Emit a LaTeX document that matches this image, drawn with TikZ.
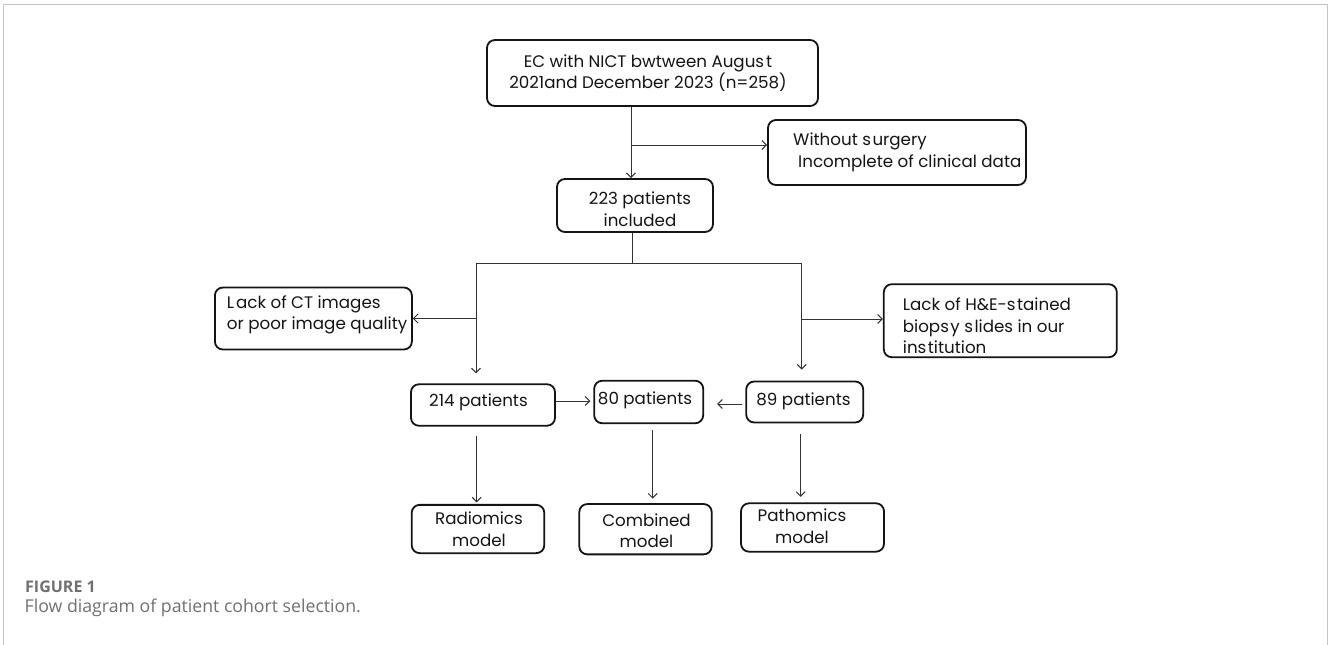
\documentclass[tikz,border=0pt]{standalone}
\usepackage{fontspec}
\setmainfont{Poppins}
\newfontfamily\capfont{Open Sans}
\usetikzlibrary{arrows.meta}
\definecolor{framegray}{HTML}{C4C4C4}
\definecolor{capgray}{HTML}{707070}
\begin{document}
\begin{tikzpicture}[x=1pt,y=-1pt,
  box/.style={draw=black!92, line width=1.8pt, rounded corners=8pt, inner sep=0pt},
  txt/.style={font=\fontsize{16.7}{21.5}\selectfont, inner sep=0pt, text=black!92},
  conn/.style={draw=black!80, line width=1pt},
  arr/.style={conn, -{Straight Barb[length=4.5pt,width=9pt,line width=1pt]}}
]
\useasboundingbox (0,0) rectangle (1328,645);
% frame
\draw[framegray, line width=1pt] (3,645) -- (3,4) -- (1327,4) -- (1327,645);

% boxes
\node[box, minimum width=331pt, minimum height=66pt] (top) at (652.5,73) {};
\node[box, minimum width=258pt, minimum height=65pt] (without) at (897,152.5) {};
\node[box, minimum width=156pt, minimum height=53pt] (inc) at (635,205.5) {};
\node[box, minimum width=197pt, minimum height=62pt] (lackct) at (313.4,318.5) {};
\node[box, minimum width=233pt, minimum height=73pt] (lackhe) at (1000.3,320.7) {};
\node[box, minimum width=144pt, minimum height=41.5pt] (p214) at (483,405) {};
\node[box, minimum width=109pt, minimum height=42.5pt] (p80) at (648.7,402) {};
\node[box, minimum width=117pt, minimum height=41pt] (p89) at (804.7,402) {};
\node[box, minimum width=132.6pt, minimum height=48.3pt] (rad) at (478,529) {};
\node[box, minimum width=132.4pt, minimum height=50.3pt] (comb) at (645.5,529.2) {};
\node[box, minimum width=143pt, minimum height=48.4pt] (path) at (812.5,527.5) {};

% texts
\node[txt, align=center] (topt) at (648,73) {EC with NICT bwtween Augus\hspace{2pt}t\\2021and December 2023 (n=258)};
\node[txt, align=left, anchor=west] (withoutt) at (793,152.5) {Without s\hspace{1.5pt}urgery\\\hspace{5pt}Incomplete of clinical data};
\node[txt, align=center] (inct) at (640,209) {223 patients\\included};
\node[txt, align=left, anchor=west] (lackctt) at (226.7,315) {L\hspace{2pt}ack of CT images\\or poor image quality};
\node[txt, align=left, anchor=west] (lackhet) at (902.7,325.7) {Lack of H\&E-s\hspace{1.5pt}tained\\biops\hspace{1.5pt}y s\hspace{1.5pt}lides in our\\ins\hspace{1.5pt}titution};
\node[txt] (p214t) at (478.5,402) {214 patients};
\node[txt] (p80t) at (645,400) {80 patients};
\node[txt] (p89t) at (803.5,401) {89 patients};
\node[txt, align=center] (radt) at (479,529) {Radiomics\\model};
\node[txt, align=center] (combt) at (646.5,530.5) {Combined\\model};
\node[txt, align=center] (patht) at (802,526) {Pathomics\\model};

% connector coordinates
\coordinate (c1) at (631,145);
\coordinate (c2) at (632,263);
\coordinate (cl) at (476,263);
\coordinate (cr) at (801.7,263);
\coordinate (cl2) at (476,318.5);
\coordinate (cr2) at (801.7,319);

% connectors
\draw[arr] (top.south -| c1) -- (inc.north -| c1);
\draw[arr] (c1) -- (without.west |- c1);
\draw[conn] (inc.south -| c2) -- (c2);
\draw[conn] (cl) -- (cr);
\draw[arr, shorten >=10pt] (cl) -- (p214.north -| cl);
\draw[arr, shorten >=11pt] (cr) -- (p89.north -| cr);
\draw[arr] (cl2) -- (lackct.east |- cl2);
\draw[arr] (cr2) -- (lackhe.west |- cr2);
\draw[arr, shorten >=3pt] (p214.east |- 0,401) -- (p80.west |- 0,401);
\draw[arr, shorten <=3pt, shorten >=13pt] (p89.west |- 0,404) -- (p80.east |- 0,404);
\draw[arr, shorten <=9pt, shorten >=1.5pt] (p214.south -| 476.7,0) -- (rad.north -| 476.7,0);
\draw[arr, shorten <=6pt, shorten >=4.5pt] (p80.south -| 652.7,0) -- (comb.north -| 652.7,0);
\draw[arr, shorten <=11pt, shorten >=5.5pt] (p89.south -| 800.7,0) -- (path.north -| 800.7,0);

% caption
\node[anchor=west, inner sep=0pt, text=capgray, font=\capfont\bfseries\fontsize{16}{19}\selectfont] (fig) at (25,586.5) {FIGURE 1};
\node[anchor=west, inner sep=0pt, text=capgray, font=\capfont\fontsize{17.7}{21}\selectfont] (cap) at (24.5,607.5) {Flow diagram of patient cohort selection.};
\end{tikzpicture}
\end{document}
